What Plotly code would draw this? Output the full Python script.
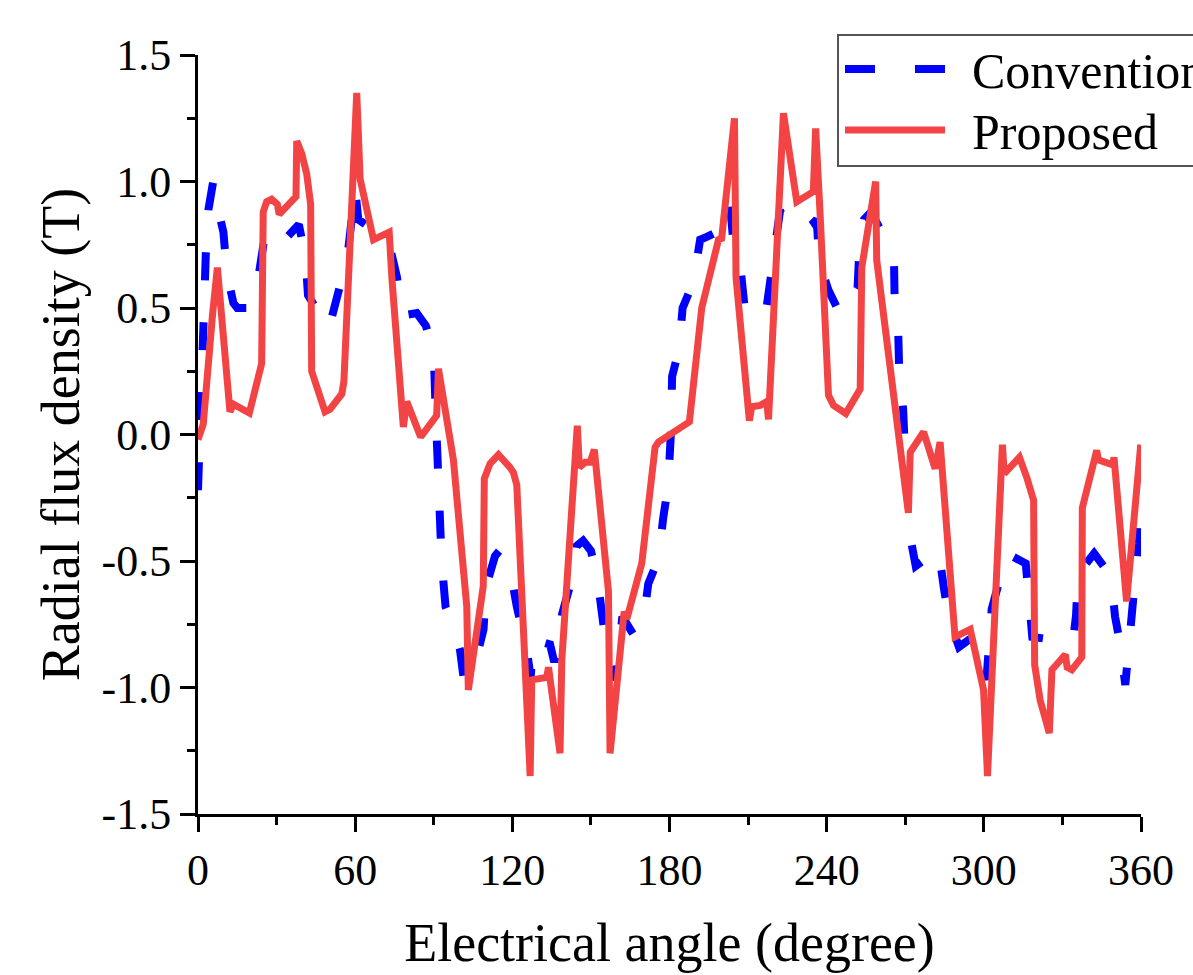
import plotly.graph_objects as go

# Conventional machine: radial flux density vs electrical angle
angle_conv = [0, 0.7, 1.5, 3, 4, 5.8, 7, 9.7, 11, 13.5, 15, 20, 22, 23.7, 26, 34,
              38.5, 41, 42, 45, 48, 50, 54, 57, 60, 61.2, 68, 72, 73.3, 76, 77.8,
              83.5, 87, 90, 90.7, 91.5, 93, 94.5, 97.5, 100, 101.5, 106.4, 109, 110,
              113.4, 115, 119.8, 121.7, 125.5, 127, 128, 134.4, 136, 137.5, 139,
              143.3, 144.6, 147, 150, 152.5, 154.6, 156, 159.5, 162, 166.2, 170,
              171.9, 175.8, 177.6, 179.5, 180.5, 181, 183.7, 185, 189, 191.7, 194,
              198, 203, 204.3, 207.2, 208.8, 216.5, 218.4, 220.3, 222.2, 226, 230,
              234.3, 236.2, 237.2, 240.7, 244, 246.7, 251.8, 252.5, 254.3, 257,
              264.2, 265.7, 266, 267.3, 267.7, 269.2, 270, 271, 272, 274, 276.7,
              282.7, 284.8, 286.5, 290.5, 294.4, 297, 301, 303, 306.2, 308.8, 316,
              317.4, 318.5, 325.3, 330.6, 334, 335.2, 336, 342.1, 348.5, 350.1,
              352.1, 354, 355.6, 357.1, 358.1, 359, 360]
flux_conv = [-0.22, 0.05, 0.42, 0.72, 0.89, 1.0, 0.92, 0.80, 0.64, 0.52, 0.50, 0.50,
             0.55, 0.66, 0.82, 0.78, 0.83, 0.70, 0.55, 0.50, 0.43, 0.42, 0.58, 0.70,
             0.97, 0.85, 0.80, 0.78, 0.74, 0.62, 0.47, 0.48, 0.43, 0.32, 0.10, -0.20,
             -0.50, -0.68, -0.76, -0.85, -0.97, -0.88, -0.77, -0.60, -0.48, -0.46,
             -0.57, -0.68, -0.85, -0.96, -0.81, -0.83, -0.90, -0.82, -0.71, -0.55,
             -0.44, -0.42, -0.46, -0.57, -0.74, -0.85, -0.97, -0.72, -0.79, -0.74,
             -0.59, -0.49, -0.33, -0.20, 0.00, 0.23, 0.34, 0.50, 0.60, 0.77, 0.78,
             0.80, 0.92, 0.77, 0.65, 0.49, 0.46, 0.61, 0.72, 0.885, 0.81, 0.80, 0.83,
             0.85, 0.68, 0.57, 0.50, 0.47, 0.58, 0.74, 0.85, 0.88, 0.735, 0.69, 0.50,
             0.41, 0.25, 0.10, -0.10, -0.30, -0.41, -0.52, -0.50, -0.455, -0.61,
             -0.72, -0.84, -0.81, -0.80, -0.97, -0.69, -0.58, -0.47, -0.51, -0.66,
             -0.80, -0.81, -0.82, -0.82, -0.715, -0.55, -0.47, -0.56, -0.72, -0.83,
             -0.99, -0.81, -0.70, -0.54, -0.43, -0.22]

# Proposed machine
angle_prop = [0, 2, 5.6, 7.4, 12.2, 13.5, 19.6, 24.3, 24.9, 26.2, 28.1, 30.3, 31,
              37.4, 37.7, 39.6, 41.5, 43, 43.4, 45.9, 48.5, 50.4, 54.9, 55.7, 60.6,
              61.9, 67, 73, 74, 78.4, 79.7, 85, 91.1, 91.8, 97.5, 102.6, 103.2,
              108.9, 109.3, 111.5, 114.7, 119.1, 120.4, 121.7, 126.8, 127.4, 133.1,
              133.8, 138.2, 138.9, 144.8, 145.6, 147.8, 149.7, 151.3, 156.7, 157.3,
              162.7, 163.7, 169.4, 174.5, 175.8, 181.5, 187.6, 192.3, 198.7, 199.9,
              204.8, 205.4, 210.5, 211.4, 214.6, 217.1, 217.8, 223.5, 228.6, 234.9,
              235.8, 237.5, 240.7, 242.6, 247.3, 252.8, 253.4, 258.7, 259.1, 271.2,
              271.9, 277, 281.4, 283.3, 289, 294.8, 299.9, 301.4, 307.1, 307.8,
              313.6, 316.4, 319, 319.4, 321.5, 325, 326, 331.1, 331.8, 333.6, 337.4,
              337.6, 343.1, 343.7, 349.2, 349.7, 354.5, 359.9]
flux_prop = [-0.02, 0.04, 0.48, 0.66, 0.09, 0.12, 0.085, 0.28, 0.88, 0.92, 0.93,
             0.91, 0.87, 0.94, 1.16, 1.11, 1.03, 0.91, 0.25, 0.16, 0.09, 0.10, 0.16,
             0.21, 1.35, 1.01, 0.77, 0.80, 0.62, 0.03, 0.13, -0.01, 0.075, 0.26,
             -0.10, -0.68, -1.01, -0.60, -0.175, -0.115, -0.08, -0.13, -0.15, -0.20,
             -1.35, -0.97, -0.96, -0.92, -1.26, -0.89, 0.035, -0.13, -0.11, -0.11,
             -0.06, -0.62, -1.26, -0.70, -0.73, -0.51, -0.05, -0.03, 0.01, 0.05,
             0.50, 0.77, 0.775, 1.25, 0.62, 0.055, 0.11, 0.115, 0.13, 0.06, 1.27,
             0.92, 0.96, 1.21, 0.87, 0.155, 0.115, 0.083, 0.18, 0.66, 1.00, 0.69,
             -0.31, -0.07, 0.01, -0.135, -0.03, -0.80, -0.77, -1.01, -1.35, -0.04,
             -0.155, -0.09, -0.17, -0.26, -0.91, -1.05, -1.18, -0.93, -0.87, -0.92,
             -0.93, -0.88, -0.29, -0.063, -0.10, -0.12, -0.09, -0.66, -0.04]

x_ticks = [0, 60, 120, 180, 240, 300, 360]
y_ticks = [-1.5, -1.0, -0.5, 0.0, 0.5, 1.0, 1.5]
y_tick_text = ["-1.5", "-1.0", "-0.5", "0.0", "0.5", "1.0", "1.5"]

FONT = "Liberation Serif"
BLUE = "#0000FF"
RED = "#F24444"
BLUE_DASH = "28px,42px"

W, H = 1193, 975
ML, MR, MT, MB = 198, 52, 55, 161
PW, PH = W - ML - MR, H - MT - MB


def px(x):
    """Page pixel x -> paper coordinate."""
    return (x - ML) / PW


def py(y):
    """Page pixel y -> paper coordinate."""
    return (H - MB - y) / PH


fig = go.Figure()
fig.add_trace(go.Scatter(
    x=angle_conv, y=flux_conv, mode="lines", name="Conventional",
    line=dict(color=BLUE, width=8, dash=BLUE_DASH), showlegend=False,
))
fig.add_trace(go.Scatter(
    x=angle_prop, y=flux_prop, mode="lines", name="Proposed",
    line=dict(color=RED, width=7), showlegend=False,
))

# Boxed key in the upper right corner (runs past the right page edge)
key_entries = [("Conventional", BLUE, dict(color=BLUE, width=8, dash="30px,40px"), 69),
               ("Proposed", RED, dict(color=RED, width=7), 130)]
shapes = [dict(type="rect", xref="paper", yref="paper",
               x0=px(838), x1=px(1260), y0=py(166), y1=py(35),
               line=dict(color="#555555", width=2), fillcolor="white", layer="above")]
annotations = []
for label, color, line, yc in key_entries:
    shapes.append(dict(type="line", xref="paper", yref="paper",
                       x0=px(845), x1=px(945), y0=py(yc), y1=py(yc),
                       line=line, layer="above"))
    annotations.append(dict(text=label, xref="paper", yref="paper",
                            x=px(970), y=py(yc + 2), xanchor="left", yanchor="middle",
                            showarrow=False, font=dict(family=FONT, size=50, color="black")))

fig.update_layout(
    width=W, height=H,
    margin=dict(l=ML, r=MR, t=MT, b=MB, autoexpand=False),
    paper_bgcolor="white", plot_bgcolor="white",
    font=dict(family=FONT, size=44, color="black"),
    showlegend=False,
    shapes=shapes, annotations=annotations,
    xaxis=dict(
        range=[0, 360], tickvals=x_ticks, showgrid=False, zeroline=False,
        showline=True, linecolor="black", linewidth=3,
        ticks="outside", ticklen=15, tickwidth=3, tickcolor="black",
        minor=dict(dtick=30, ticks="outside", ticklen=8, tickwidth=3, tickcolor="black"),
        tickfont=dict(family=FONT, size=44),
        title=dict(text="Electrical angle (degree)", font=dict(family=FONT, size=54), standoff=30),
    ),
    yaxis=dict(
        range=[-1.5, 1.5], tickvals=y_ticks, ticktext=y_tick_text,
        showgrid=False, zeroline=False,
        showline=True, linecolor="black", linewidth=3,
        ticks="outside", ticklen=15, tickwidth=3, tickcolor="black",
        minor=dict(dtick=0.25, ticks="outside", ticklen=8, tickwidth=3, tickcolor="black"),
        tickfont=dict(family=FONT, size=44),
        title=dict(text="Radial flux density (T)", font=dict(family=FONT, size=54), standoff=5),
    ),
)

fig.write_html("out.html")
